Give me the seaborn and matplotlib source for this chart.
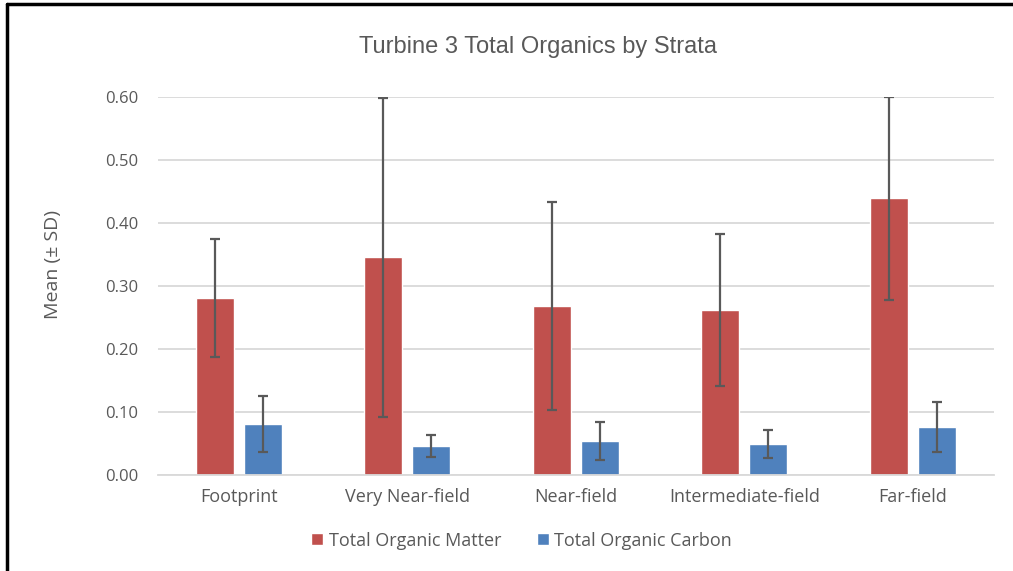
import numpy as np
import pandas as pd
import matplotlib
matplotlib.use('Agg')
import matplotlib.pyplot as plt
import seaborn as sns

# Values
strata = ['Footprint', 'Very Near-field', 'Near-field', 'Intermediate-field', 'Far-field']
tom_mean = [0.280, 0.345, 0.268, 0.261, 0.439]
tom_sd = [0.094, 0.254, 0.165, 0.121, 0.161]
toc_mean = [0.080, 0.045, 0.053, 0.048, 0.076]
toc_sd = [0.044, 0.017, 0.030, 0.022, 0.040]
series = ['Total Organic Matter', 'Total Organic Carbon']
y_ticks = [0.0, 0.1, 0.2, 0.3, 0.4, 0.5, 0.6]

df = pd.DataFrame({
    'Strata': strata * 2,
    'Series': [series[0]] * 5 + [series[1]] * 5,
    'Mean': tom_mean + toc_mean,
    'SD': tom_sd + toc_sd,
})

sns.set_style('white')
plt.rcParams['font.family'] = ['Open Sans', 'DejaVu Sans']
text_color = '#595959'
colors = {series[0]: '#C0504D', series[1]: '#4F81BD'}

fig = plt.figure(figsize=(10.13, 5.71), dpi=100)
ax = fig.add_axes([0.156, 0.169, 0.825, 0.661])

sns.barplot(data=df, x='Strata', y='Mean', hue='Series', palette=colors,
            order=strata, hue_order=series, errorbar=None,
            width=0.57, gap=0.21, saturation=1, ax=ax, legend=True)

# Error bars (± SD) centred on each bar
for container, name in zip(ax.containers, series):
    sub = df[df['Series'] == name].set_index('Strata').loc[strata]
    xs = [p.get_x() + p.get_width() / 2 for p in container]
    ax.errorbar(xs, sub['Mean'], yerr=sub['SD'], fmt='none',
                ecolor='#595959', elinewidth=1.6, capsize=3.8, capthick=1.6, zorder=5)

ax.set_ylim(0, 0.6)
ax.set_yticks(y_ticks)
ax.set_yticklabels([f'{v:.2f}' for v in y_ticks])
ax.yaxis.grid(True, color='#D9D9D9', linewidth=1.3)
ax.set_axisbelow(True)
for s in ['top', 'right', 'left']:
    ax.spines[s].set_visible(False)
ax.spines['bottom'].set_color('#D9D9D9')
ax.spines['bottom'].set_linewidth(1.3)
ax.tick_params(axis='both', length=0, colors=text_color)
ax.tick_params(axis='y', pad=14, labelsize=12)
ax.tick_params(axis='x', pad=10, labelsize=13)
ax.set_xlabel('')
ax.set_ylabel('')
fig.text(0.052, 0.536, 'Mean (± SD)', rotation=90, ha='center', va='center',
         fontsize=14, color=text_color)

fig.suptitle('Turbine 3 Total Organics by Strata', x=0.531, y=0.918, va='center',
             fontsize=17, color=text_color, family=['Liberation Sans', 'DejaVu Sans'])

handles, labels = ax.get_legend_handles_labels()
ax.get_legend().remove()
fig.legend(handles, labels, loc='center', bbox_to_anchor=(0.515, 0.053), ncol=2,
           frameon=False, fontsize=13, labelcolor=text_color,
           handlelength=0.65, handleheight=0.65, handletextpad=0.3, columnspacing=2.0)

# Black frame lines on the left and top edges (cropped screenshot)
fig.add_artist(plt.Line2D([0.0068, 0.0068], [0, 0.993], color='black', linewidth=2.5,
                          transform=fig.transFigure))
fig.add_artist(plt.Line2D([0.0068, 1.0], [0.993, 0.993], color='black', linewidth=2.5,
                          transform=fig.transFigure))

fig.savefig('out.png', dpi=100)
